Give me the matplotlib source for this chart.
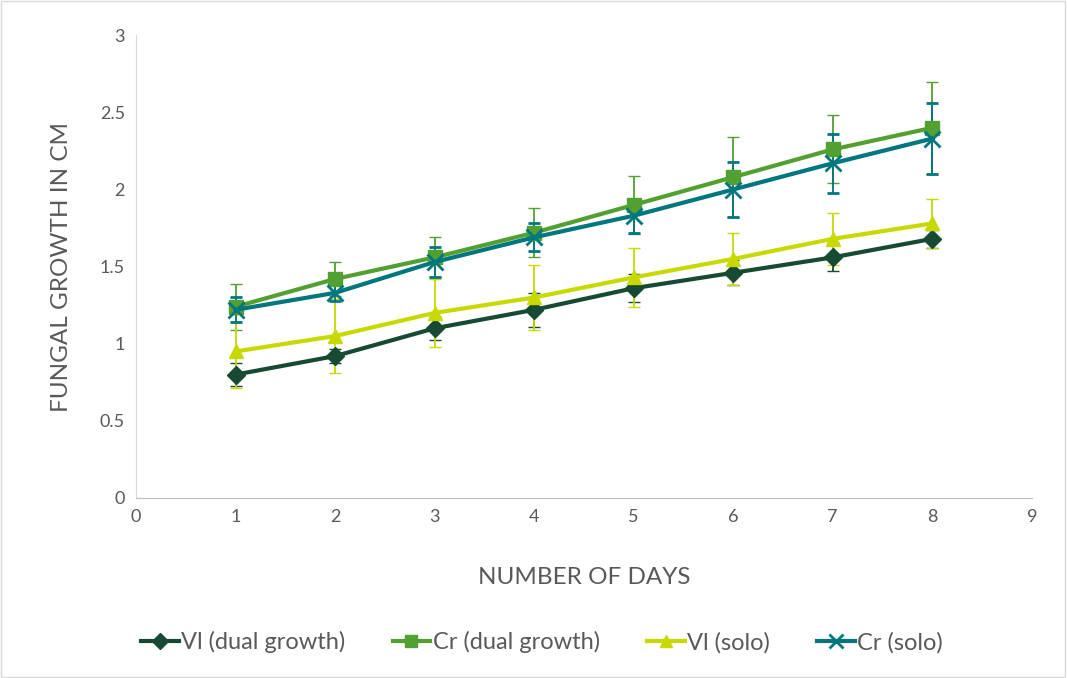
import matplotlib.pyplot as plt
from matplotlib.patches import Rectangle
from matplotlib.lines import Line2D

plt.rcParams['font.family'] = ['Lato', 'DejaVu Sans']

days = [1, 2, 3, 4, 5, 6, 7, 8]

vl_dual = [0.80, 0.92, 1.10, 1.22, 1.36, 1.46, 1.56, 1.68]
vl_dual_err = [0.075, 0.045, 0.075, 0.11, 0.09, 0.08, 0.09, 0.06]

cr_dual = [1.24, 1.42, 1.56, 1.72, 1.90, 2.08, 2.26, 2.40]
cr_dual_err = [0.15, 0.11, 0.13, 0.16, 0.19, 0.26, 0.22, 0.30]

vl_solo = [0.95, 1.05, 1.20, 1.30, 1.43, 1.55, 1.68, 1.78]
vl_solo_err = [0.24, 0.24, 0.22, 0.21, 0.19, 0.17, 0.17, 0.16]

cr_solo = [1.22, 1.33, 1.53, 1.69, 1.83, 2.00, 2.17, 2.33]
cr_solo_err = [0.08, 0.05, 0.10, 0.09, 0.11, 0.18, 0.19, 0.23]

series = [
    ('Vl (dual growth)', vl_dual, vl_dual_err, '#174a32', 'D', 9),
    ('Cr (dual growth)', cr_dual, cr_dual_err, '#52a032', 's', 10),
    ('Vl (solo)', vl_solo, vl_solo_err, '#c8d900', '^', 10),
    ('Cr (solo)', cr_solo, cr_solo_err, '#00767f', 'x', 11),
]

fig = plt.figure(figsize=(10.67, 6.78), dpi=100)
ax = fig.add_axes([0.1275, 0.2655, 0.8395, 0.6825])

handles = []
for name, vals, err, col, mk, ms in series:
    mew = 2 if mk == 'x' else 1
    ax.errorbar(days, vals, yerr=err, color=col, lw=3, marker=mk, ms=ms,
                mew=mew, ecolor=col, elinewidth=1.3,
                capsize=4, capthick=1.3)
    handles.append(Line2D([], [], color=col, lw=3, marker=mk, ms=ms - 1, mew=mew, label=name))

ax.set_xlim(0, 9)
ax.set_ylim(0, 3)
ax.set_xticks(range(0, 10))
ax.set_yticks([0, 0.5, 1, 1.5, 2, 2.5, 3])
ax.set_yticklabels(['0', '0.5', '1', '1.5', '2', '2.5', '3'])
ax.tick_params(length=0, labelsize=13, labelcolor='#595959', pad=8)

for s in ['top', 'right']:
    ax.spines[s].set_visible(False)
ax.spines['left'].set_color('#d9d9d9')
ax.spines['bottom'].set_color('#bfbfbf')

ax.set_xlabel('NUMBER OF DAYS', fontsize=17.5, color='#595959', labelpad=30)
ax.set_ylabel('FUNGAL GROWTH IN CM', fontsize=17.5, color='#595959', labelpad=20)

leg = fig.legend(handles=handles, loc='center', bbox_to_anchor=(0.508, 0.053), ncol=4,
                 frameon=False, fontsize=17, handlelength=1.6, columnspacing=2.0,
                 handletextpad=0.1)
for t in leg.get_texts():
    t.set_color('#595959')

fig.patches.append(Rectangle((0.001, 0.002), 0.997, 0.996, transform=fig.transFigure,
                             fill=False, edgecolor='#d9d9d9', lw=1))

fig.savefig('out.png', dpi=100)
